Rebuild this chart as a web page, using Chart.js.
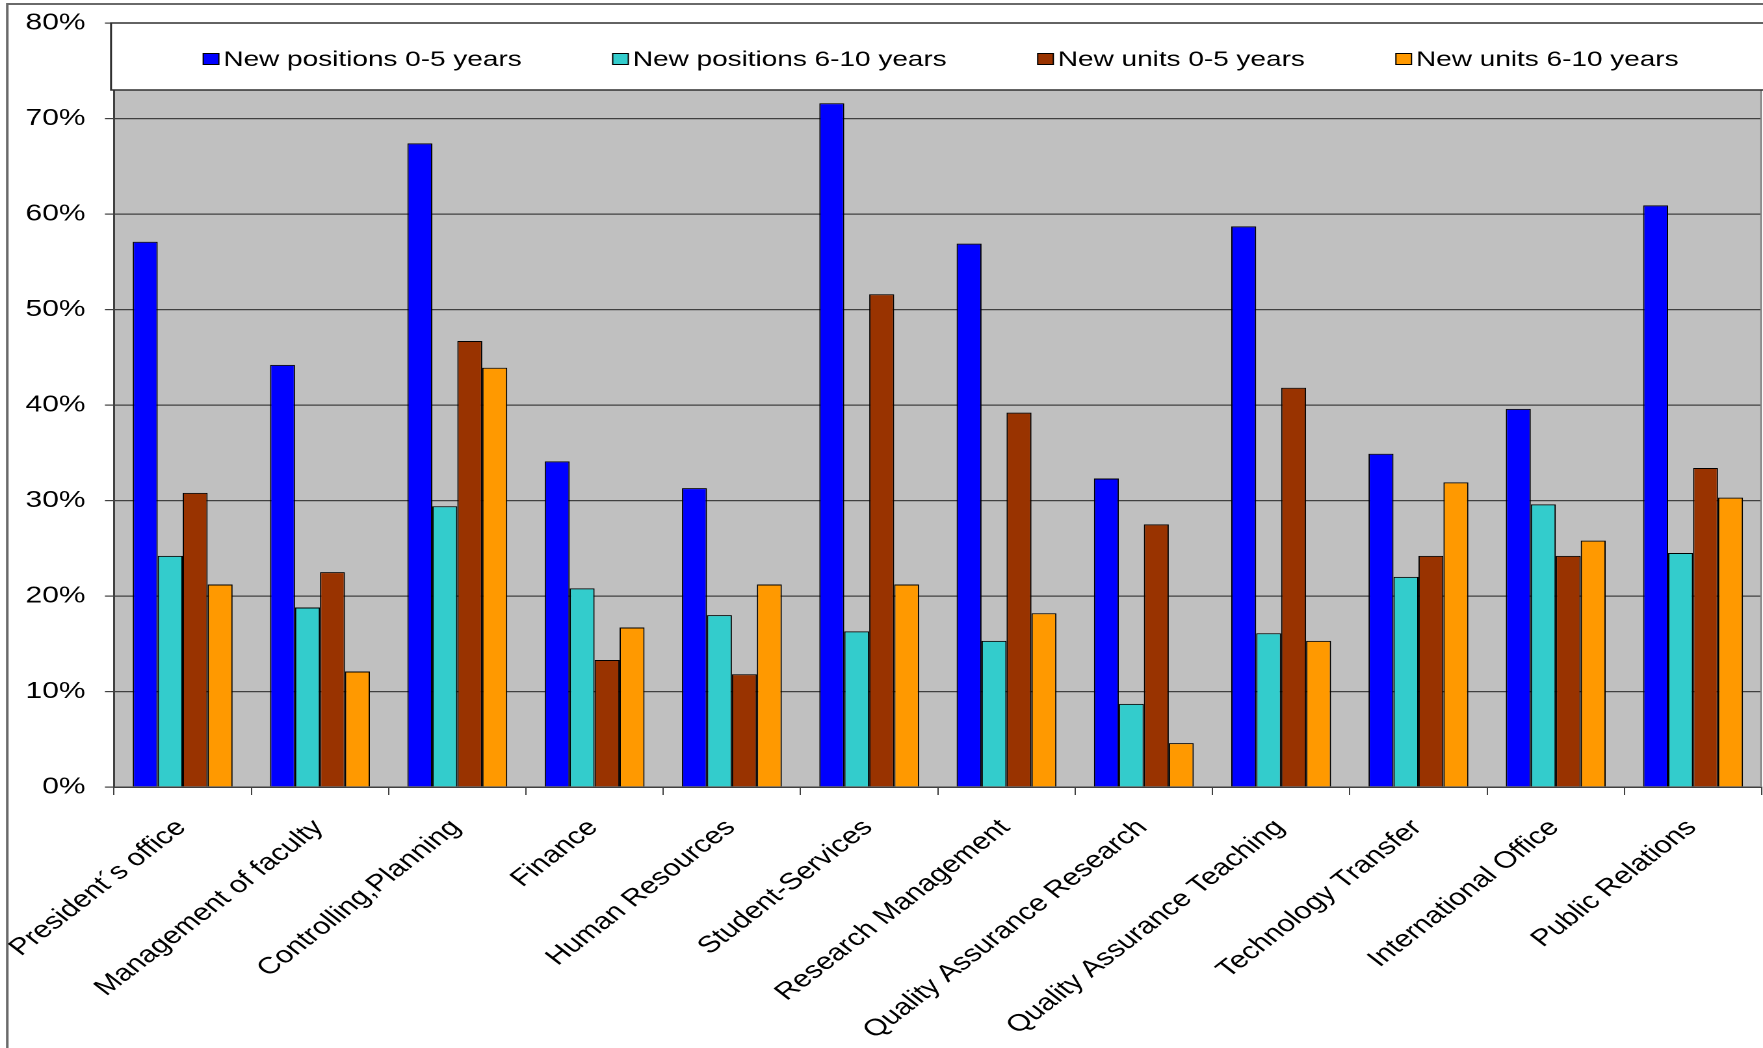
<!DOCTYPE html>
<html>
<head>
<meta charset="utf-8">
<script src="https://cdn.jsdelivr.net/npm/chart.js@4.4.1/dist/chart.umd.min.js"></script>
<style>
  html, body { margin: 0; padding: 0; background: #fff; overflow: hidden; }
  #wrap { width: 1356px; height: 1048px; transform: scaleX(1.30015); transform-origin: 0 0; }
  canvas { display: block; }
</style>
</head>
<body>
<div id="wrap"><canvas id="c" width="1356" height="1048"></canvas></div>
<script>
// Organisational units of university administration
const categories = [
  "President\u00b4s office", "Management of faculty", "Controlling,Planning", "Finance",
  "Human Resources", "Student-Services", "Research Management", "Quality Assurance Research",
  "Quality Assurance Teaching", "Technology Transfer", "International Office", "Public Relations"
];

// Shares in percent
const newPositions0to5  = [57.1, 44.2, 67.4, 34.1, 31.3, 71.6, 56.9, 32.3, 58.7, 34.9, 39.6, 60.9];
const newPositions6to10 = [24.2, 18.8, 29.4, 20.8, 18.0, 16.3, 15.3,  8.7, 16.1, 22.0, 29.6, 24.5];
const newUnits0to5      = [30.8, 22.5, 46.7, 13.3, 11.8, 51.6, 39.2, 27.5, 41.8, 24.2, 24.2, 33.4];
const newUnits6to10     = [21.2, 12.1, 43.9, 16.7, 21.2, 21.2, 18.2,  4.6, 15.3, 31.9, 25.8, 30.3];

const seriesNames = ["New positions 0-5 years", "New positions 6-10 years", "New units 0-5 years", "New units 6-10 years"];
const seriesColors = ["#0000FF", "#33CCCC", "#993300", "#FF9900"];

const yTickLabels = ["0%", "10%", "20%", "30%", "40%", "50%", "60%", "70%", "80%"];

const FONT = "'Liberation Sans', Arial, sans-serif";

// Gray plot background, frame and the boxed legend over the top of the plot
const decorations = {
  id: 'decorations',
  beforeDraw(chart) {
    const { ctx, chartArea: a, width, height } = chart;
    ctx.save();
    ctx.fillStyle = '#C0C0C0';
    ctx.fillRect(a.left, a.top, a.right - a.left, a.bottom - a.top);
    // outer frame (top and left edges visible)
    ctx.strokeStyle = '#6a6a6a';
    ctx.lineWidth = 2;
    ctx.strokeRect(5.6, 4, width + 20, height + 20);
    ctx.restore();
  },
  afterDraw(chart) {
    const { ctx, chartArea: a, width } = chart;
    ctx.save();
    // right edge of the plot
    ctx.strokeStyle = '#808080';
    ctx.lineWidth = 1.2;
    ctx.beginPath();
    ctx.moveTo(a.right - 0.5, a.top);
    ctx.lineTo(a.right - 0.5, a.bottom);
    ctx.stroke();

    // legend box
    const boxLeft = a.left - 2.3, boxTop = a.top, boxBottom = a.top + 67;
    ctx.fillStyle = '#FFFFFF';
    ctx.fillRect(boxLeft, boxTop, width + 10 - boxLeft, boxBottom - boxTop);
    ctx.strokeStyle = '#303030';
    ctx.lineWidth = 1.5;
    ctx.strokeRect(boxLeft, boxTop, width + 10 - boxLeft, boxBottom - boxTop);

    ctx.font = '21.5px ' + FONT;
    ctx.textBaseline = 'middle';
    ctx.textAlign = 'left';
    const sq = 12, sqGap = 3.5, itemGap = 70;
    const widths = seriesNames.map(n => ctx.measureText(n).width);
    const total = widths.reduce((s, w) => s + w + sq + sqGap, 0) + itemGap * (seriesNames.length - 1);
    const boxCenter = (boxLeft + width) / 2 + 3;
    let x = boxCenter - total / 2;
    const cy = boxTop + 36;
    seriesNames.forEach((name, i) => {
      ctx.fillStyle = seriesColors[i];
      ctx.fillRect(x, cy - 5.5, sq, 11);
      ctx.strokeStyle = '#000';
      ctx.lineWidth = 1;
      ctx.strokeRect(x, cy - 5.5, sq, 11);
      ctx.fillStyle = '#000';
      ctx.fillText(name, x + sq + sqGap, cy + 1);
      x += sq + sqGap + widths[i] + itemGap;
    });
    ctx.restore();
  }
};

const seriesData = [newPositions0to5, newPositions6to10, newUnits0to5, newUnits6to10];

new Chart(document.getElementById('c'), {
  type: 'bar',
  data: {
    labels: categories,
    datasets: seriesNames.map((name, i) => ({
      label: name,
      data: seriesData[i],
      backgroundColor: seriesColors[i],
      borderColor: '#000000',
      borderWidth: 1,
      barPercentage: 1,
      categoryPercentage: 4 / 5.5
    }))
  },
  options: {
    responsive: false,
    animation: false,
    devicePixelRatio: 2,
    layout: { padding: { left: 0, top: 23, right: 1, bottom: 0 } },
    plugins: { legend: { display: false }, tooltip: { enabled: false } },
    scales: {
      x: {
        grid: { offset: true, drawOnChartArea: false, drawTicks: true, tickLength: 8, color: '#404040', lineWidth: 1 },
        border: { color: '#404040', width: 1.5 },
        ticks: {
          autoSkip: false, minRotation: 45, maxRotation: 45,
          font: { family: FONT, size: 23.5 }, color: '#000',
          padding: 19, labelOffset: -1
        },
        afterFit(s) { s.height = 261; s.paddingLeft = 0; s.paddingRight = 0; }
      },
      y: {
        min: 0, max: 80,
        ticks: {
          stepSize: 10,
          callback: (v, i) => yTickLabels[i],
          font: { family: FONT, size: 23 }, color: '#000', padding: 15
        },
        grid: { color: '#404040', lineWidth: 1.2, tickLength: 7, drawTicks: true },
        border: { color: '#404040', width: 1.5 },
        afterFit(s) { s.width = 87.7; s.paddingTop = 0; s.paddingBottom = 0; }
      }
    }
  },
  plugins: [decorations]
});
</script>
</body>
</html>
